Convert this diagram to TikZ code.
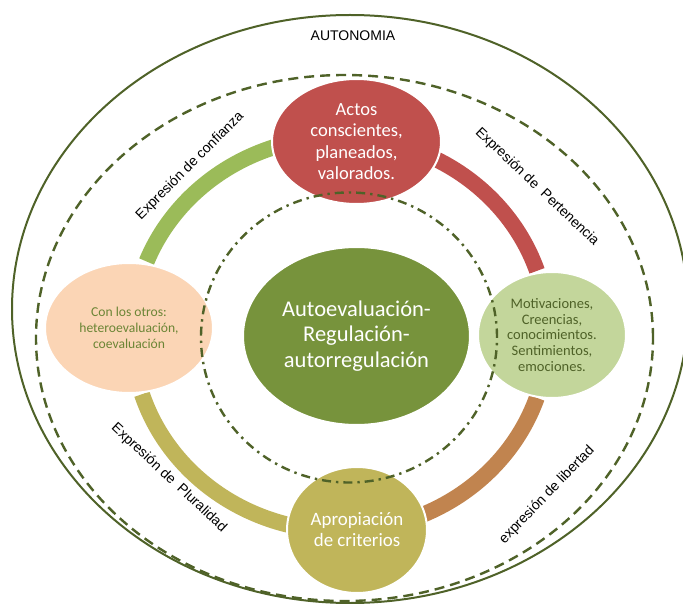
\documentclass[tikz,border=0pt]{standalone}
\usepackage{fontspec}
\setmainfont{Liberation Sans}
\newfontfamily\carlito{Carlito}
\usetikzlibrary{shapes.geometric}
\definecolor{olivedk}{HTML}{4F6228}
\definecolor{redc}{HTML}{C0504D}
\definecolor{greenarc}{HTML}{9BBB59}
\definecolor{peach}{HTML}{FBD5B5}
\definecolor{centerg}{HTML}{77933C}
\definecolor{lightg}{HTML}{C3D69B}
\definecolor{oliveb}{HTML}{C0B55A}
\definecolor{brownarc}{HTML}{C1844F}
\definecolor{peachtxt}{HTML}{6B8535}
\begin{document}
\begin{tikzpicture}[x=1pt,y=-1pt,
  nd/.style={ellipse, inner sep=0pt, draw=white, line width=2pt, align=center},
  ringarc/.style={line width=16pt},
  lbl/.style={font=\fontsize{14}{16}\selectfont, inner sep=0pt, text=black}]
\useasboundingbox[fill=white] (0,0) rectangle (683,604);
% outer frames
\draw[olivedk, line width=2pt] (350,309) ellipse [x radius=338pt, y radius=294pt];
\draw[olivedk, line width=2.4pt, dash pattern=on 10pt off 6pt] (344.5,338) ellipse [x radius=308.5pt, y radius=263pt];
% ring arcs
\begin{scope}[shift={(340,334)}]
\draw[ringarc, greenarc] (158.4:208pt and 197pt) arc[start angle=158.4, end angle=95, x radius=208pt, y radius=197pt];
\draw[ringarc, redc] (85:208pt and 197pt) arc[start angle=85, end angle=18.7, x radius=208pt, y radius=197pt];
\draw[ringarc, brownarc] (-18.9:208pt and 197pt) arc[start angle=-18.9, end angle=-88, x radius=208pt, y radius=197pt];
\draw[ringarc, oliveb] (197.8:208pt and 197pt) arc[start angle=197.8, end angle=268, x radius=208pt, y radius=197pt];
\end{scope}
% nodes
\node[nd, fill=redc, minimum width=169pt, minimum height=125pt, text=white,
  font=\carlito\fontsize{18.5}{21.3}\selectfont] (actos) at (356.5,141.5) {Actos\\conscientes,\\planeados,\\valorados.};
\node[nd, fill=centerg, minimum width=227pt, minimum height=178pt, text=white,
  font=\carlito\fontsize{22.5}{25.5}\selectfont] (auto) at (356.5,336) {Autoevaluación-\\Regulación-\\autorregulación};
\node[nd, fill=peach, minimum width=168pt, minimum height=130pt, text=peachtxt,
  font=\carlito\fontsize{13.6}{16}\selectfont] (otros) at (129,328) {Con los otros:\\heteroevaluación,\\coevaluación};
\node[nd, fill=lightg, minimum width=148pt, minimum height=126pt, text=olivedk,
  font=\carlito\fontsize{14.5}{15.8}\selectfont] (motiv) at (552,335) {Motivaciones,\\Creencias,\\conocimientos.\\Sentimientos,\\emociones.};
\node[nd, fill=oliveb, minimum width=140pt, minimum height=126pt, text=white,
  font=\carlito\fontsize{18.9}{21}\selectfont] (aprop) at (357,530) {Apropiación\\de criterios};
% inner dash-dot frame
\draw[olivedk, line width=2.4pt, dash pattern=on 9pt off 5pt on 2.4pt off 5pt] (349,337.5) ellipse [x radius=148pt, y radius=145pt];
% labels
\node[font=\fontsize{14}{16}\selectfont, inner sep=0pt] (autonomia) at (353,36) {AUTONOMIA};
\node[lbl, rotate=45] (lconf) at (190,166) {Expresión de confianza};
\node[lbl, rotate=-43.5] (lpert) at (537,187) {Expresión de\ \ Pertenencia};
\node[lbl, rotate=-43] (lplur) at (169,478) {Expresión de\ \ Pluralidad};
\node[lbl, rotate=46] (llib) at (547,495) {expresión de libertad};
\end{tikzpicture}
\end{document}
